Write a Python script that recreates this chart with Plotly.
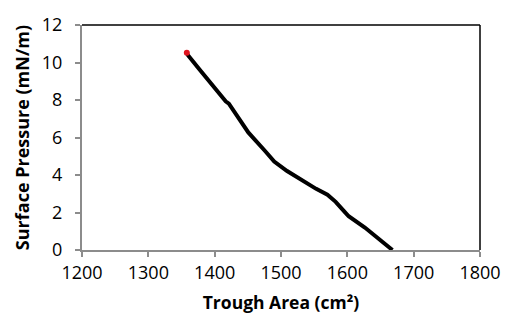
import plotly.graph_objects as go

area = [1358, 1359.5, 1377.5, 1397, 1411.7, 1416.6, 1421.4, 1426.4, 1450.7, 1475, 1489.8,
        1509.2, 1528.8, 1553, 1570, 1582.4, 1594.6, 1602, 1626.4, 1650.7, 1663, 1668]
pressure = [10.52, 10.4, 9.61, 8.75, 8.07, 7.93, 7.81, 7.55, 6.27, 5.32, 4.72,
            4.21, 3.78, 3.26, 2.95, 2.57, 2.09, 1.80, 1.20, 0.51, 0.14, 0.0]

x_ticks = [1200, 1300, 1400, 1500, 1600, 1700, 1800]
y_ticks = [0, 2, 4, 6, 8, 10, 12]

font = "Open Sans"

fig = go.Figure()
fig.add_trace(go.Scatter(x=area, y=pressure, mode="lines",
                         line=dict(color="black", width=4), showlegend=False))
fig.add_trace(go.Scatter(x=[area[0]], y=[pressure[0]], mode="markers",
                         marker=dict(color="#e0141e", size=6), showlegend=False))

fig.update_layout(
    width=513, height=325,
    margin=dict(l=82, r=21, t=17, b=75),
    paper_bgcolor="white", plot_bgcolor="white",
    font=dict(family=font, color="black", size=18),
    xaxis=dict(range=[1200, 1800], tickvals=x_ticks, showgrid=False, zeroline=False,
               showline=True, linecolor="#8c8c8c", linewidth=2,
               ticks="outside", ticklen=5, tickcolor="#8c8c8c", tickwidth=2,
               tickfont=dict(size=18, family=font), ticklabeloverflow="allow",
               title=dict(text="<b>Trough Area (cm²)</b>", font=dict(size=17.5, family=font), standoff=14)),
    yaxis=dict(range=[0, 12], tickvals=y_ticks, showgrid=False, zeroline=False,
               showline=True, linecolor="#8c8c8c", linewidth=2,
               ticks="outside", ticklen=5, tickcolor="#8c8c8c", tickwidth=2,
               tickfont=dict(size=18, family=font), ticklabelstandoff=9, ticklabeloverflow="allow",
               title=dict(text="<b>Surface Pressure (mN/m)</b>", font=dict(size=18, family=font), standoff=8)),
    shapes=[
        dict(type="line", xref="paper", yref="paper", x0=0, x1=1, y0=1, y1=1,
             line=dict(color="black", width=1.5)),
        dict(type="line", xref="paper", yref="paper", x0=1, x1=1, y0=0, y1=1,
             line=dict(color="black", width=1.5)),
    ],
)

fig.write_html("out.html")
